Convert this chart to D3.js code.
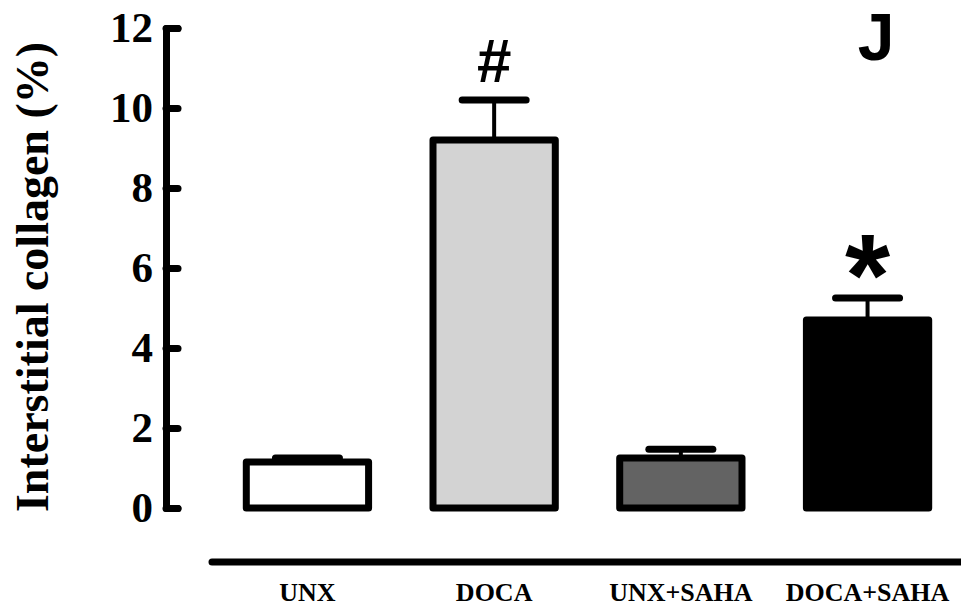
<!DOCTYPE html>
<html>
<head>
<meta charset="utf-8">
<script src="https://cdn.jsdelivr.net/npm/d3@7"></script>
<style>
  html, body { margin: 0; padding: 0; background: #fff; }
  svg { display: block; }
</style>
</head>
<body>
<script>
// ---- data ----
const categories = ["UNX", "DOCA", "UNX+SAHA", "DOCA+SAHA"];
const means = [1.15, 9.2, 1.25, 4.7];
const sems = [0.1, 1.0, 0.22, 0.55];
const fills = ["#ffffff", "#d3d3d3", "#636363", "#000000"];
const marks = ["", "#", "", "*"];
const yTicks = [0, 2, 4, 6, 8, 10, 12];
const yTitle = "Interstitial collagen (%)";
const panelLabel = "J";

const W = 961, H = 616;
const svg = d3.select("body").append("svg").attr("width", W).attr("height", H);

const y = d3.scaleLinear().domain([0, 12]).range([508, 28]);
const x = d3.scaleBand().domain(categories).range([214, 961]).paddingInner(0.345).paddingOuter(0.173);

const serif = "'Liberation Serif','Times New Roman',serif";
const sans = "'Liberation Sans',Arial,sans-serif";

// y axis
const yAxis = d3.axisLeft(y).tickValues(yTicks).tickSizeInner(-12).tickSizeOuter(-12).tickPadding(13);
const gy = svg.append("g").attr("transform", "translate(166,0)").call(yAxis);
gy.select(".domain").attr("stroke", "#000").attr("stroke-width", 7).attr("stroke-linejoin", "round").attr("stroke-linecap", "round");
gy.selectAll(".tick line").attr("stroke", "#000").attr("stroke-width", 7).attr("stroke-linecap", "round");
gy.selectAll(".tick text").attr("fill", "#000").style("font-family", serif).style("font-weight", "bold").style("font-size", "43px");

// y title
svg.append("text")
  .attr("transform", "translate(48," + 277 + ") rotate(-90)")
  .attr("text-anchor", "middle")
  .style("font-family", serif).style("font-weight", "bold").style("font-size", "46px")
  .text(yTitle);

// bars
const bw = x.bandwidth();
svg.selectAll("rect.bar").data(categories).join("rect")
  .attr("class", "bar")
  .attr("x", d => x(d))
  .attr("y", (d, i) => y(means[i]))
  .attr("width", bw)
  .attr("height", (d, i) => y(0) - y(means[i]))
  .attr("fill", (d, i) => fills[i])
  .attr("stroke", "#000").attr("stroke-width", 7).attr("stroke-linejoin", "round");

// error bars
const cx = d => x(d) + bw / 2;
svg.selectAll("line.err").data(categories).join("line")
  .attr("x1", cx).attr("x2", cx)
  .attr("y1", (d, i) => y(means[i])).attr("y2", (d, i) => y(means[i] + sems[i]))
  .attr("stroke", "#000").attr("stroke-width", 4);
svg.selectAll("line.cap").data(categories).join("line")
  .attr("x1", d => cx(d) - 32).attr("x2", d => cx(d) + 32)
  .attr("y1", (d, i) => y(means[i] + sems[i])).attr("y2", (d, i) => y(means[i] + sems[i]))
  .attr("stroke", "#000").attr("stroke-width", 7).attr("stroke-linecap", "round");

// significance marks
svg.selectAll("text.mark").data(categories).join("text")
  .attr("class", "mark")
  .attr("x", cx)
  .attr("y", (d, i) => y(means[i] + sems[i]) + (marks[i] === "*" ? 18 : -18))
  .attr("text-anchor", "middle")
  .style("font-family", sans).style("font-weight", "bold")
  .style("font-size", (d, i) => marks[i] === "*" ? "116px" : "62px")
  .text((d, i) => marks[i]);

// bottom line
svg.append("line").attr("x1", 212).attr("x2", 961).attr("y1", 562).attr("y2", 562)
  .attr("stroke", "#000").attr("stroke-width", 7).attr("stroke-linecap", "round");

// category labels
svg.selectAll("text.cat").data(categories).join("text")
  .attr("class", "cat")
  .attr("x", cx).attr("y", 601)
  .attr("text-anchor", "middle")
  .style("font-family", serif).style("font-weight", "bold").style("font-size", "26px")
  .text(d => d);

// panel label
svg.append("text").attr("x", 876).attr("y", 60).attr("text-anchor", "middle")
  .style("font-family", sans).style("font-weight", "bold").style("font-size", "66px")
  .text(panelLabel);
</script>
</body>
</html>
